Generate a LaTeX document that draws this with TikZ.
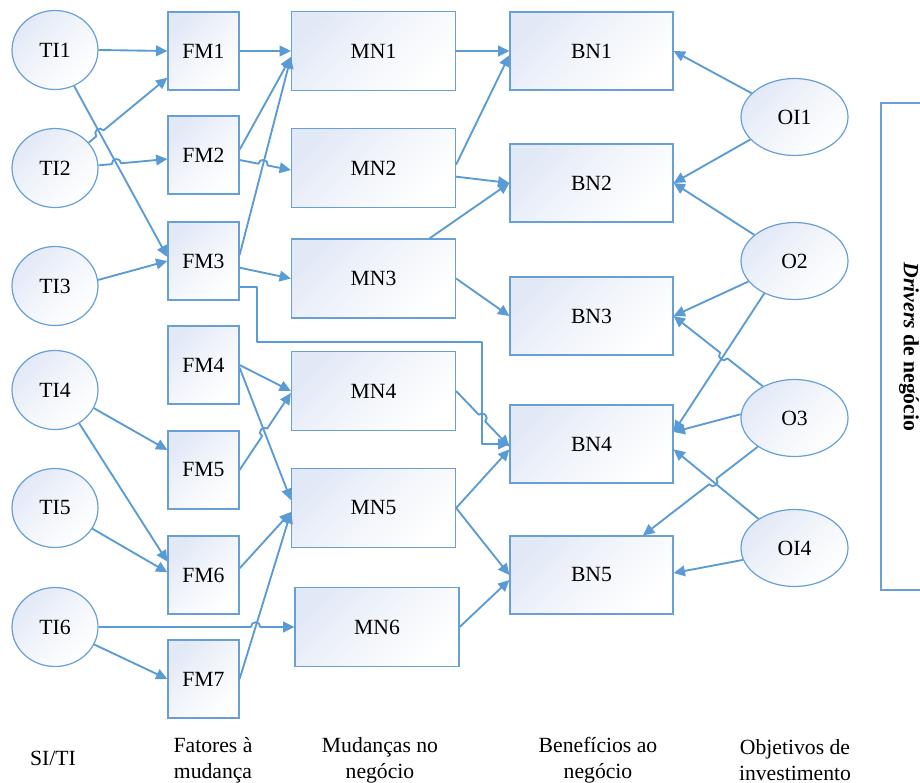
\documentclass[tikz,border=0pt]{standalone}
\usepackage{fontspec}
\setmainfont{Liberation Serif}
\usetikzlibrary{arrows.meta,shapes.geometric,calc}

\definecolor{lnblue}{RGB}{91,155,213}
\definecolor{edgeblue}{RGB}{104,160,214}
\definecolor{shadeblue}{RGB}{226,233,246}

\tikzset{
  conn/.style={draw=lnblue, line width=1.4pt, line join=round,
    -{Triangle[length=8.5pt,width=8pt]}},
  frameline/.style={draw=edgeblue, line width=0.9pt},
  filled/.style={frameline, top color=shadeblue, bottom color=white,
    middle color=shadeblue!45!white,
    shading angle=45, inner sep=0pt,
    font=\fontsize{16.25}{19}\selectfont},
  tiell/.style={filled, ellipse, minimum width=64.5pt, minimum height=59.25pt},
  oiell/.style={filled, ellipse, minimum width=80.25pt, minimum height=57.75pt},
  fmbox/.style={filled, rectangle, minimum width=53.25pt, minimum height=58.5pt},
  mnbox/.style={filled, rectangle, minimum width=123pt, minimum height=59.25pt},
  bnbox/.style={filled, rectangle, minimum width=122.25pt, minimum height=58.5pt},
  caption/.style={align=center, inner sep=0pt,
    font=\fontsize{16.25}{19.5}\selectfont},
}

% connector from #1 to #2 that jumps over the line #3--#4
\newcommand\hopconn[4]{%
  \path (intersection of #1--#2 and #3--#4) coordinate (hp);
  \path ($(hp)!3.5pt!(#1)$) coordinate (hpa) ($(hp)!3.5pt!(#2)$) coordinate (hpb);
  \draw[conn] (#1) -- (hpa)
    .. controls ($(hpa)!0.667!90:(hpb)$) and ($(hpb)!0.667!-90:(hpa)$) .. (hpb)
    -- (#2);
}

\begin{document}
\begin{tikzpicture}[x=0.75pt, y=-0.75pt]
\useasboundingbox (0,0) rectangle (920,782);

% SI/TI
\node[tiell] (TI1) at (55,50)  {TI1};
\node[tiell] (TI2) at (55,168) {TI2};
\node[tiell] (TI3) at (55,286) {TI3};
\node[tiell] (TI4) at (55,390) {TI4};
\node[tiell] (TI5) at (55,508) {TI5};
\node[tiell] (TI6) at (55,627) {TI6};

% change factors
\node[fmbox] (FM1) at (203.5,51)  {FM1};
\node[fmbox] (FM2) at (203.5,155) {FM2};
\node[fmbox] (FM3) at (203.5,261) {FM3};
\node[fmbox] (FM4) at (203.5,365) {FM4};
\node[fmbox] (FM5) at (203.5,470) {FM5};
\node[fmbox] (FM6) at (203.5,575) {FM6};
\node[fmbox] (FM7) at (203.5,679) {FM7};

% business changes
\node[mnbox] (MN1) at (373.5,51)    {MN1};
\node[mnbox] (MN2) at (373.5,168)   {MN2};
\node[mnbox] (MN3) at (373.5,278.5) {MN3};
\node[mnbox] (MN4) at (373.5,391)   {MN4};
\node[mnbox] (MN5) at (373.5,508)   {MN5};
\node[mnbox] (MN6) at (377,627)     {MN6};

% business benefits
\node[bnbox] (BN1) at (591.5,51)  {BN1};
\node[bnbox] (BN2) at (591.5,183) {BN2};
\node[bnbox] (BN3) at (591.5,316) {BN3};
\node[bnbox] (BN4) at (591.5,444) {BN4};
\node[bnbox] (BN5) at (591.5,575) {BN5};

% investment objectives
\node[oiell] (OI1) at (794.5,117) {OI1};
\node[oiell] (O2)  at (794.5,261) {O2};
\node[oiell] (O3)  at (794.5,418) {O3};
\node[oiell] (OI4) at (794.5,548) {OI4};

% attachment points
\coordinate (t1o) at (TI1.-62);
\coordinate (f3a) at ([yshift=3pt]FM3.west);
\coordinate (t2a) at (TI2.37);
\coordinate (f1b) at ([yshift=-20pt]FM1.west);
\coordinate (t2b) at ([yshift=2pt]TI2.east);
\coordinate (f2a) at ([yshift=-3pt]FM2.west);
\coordinate (t6o) at (TI6.east);
\coordinate (m6a) at (MN6.west);
\coordinate (f7o) at (FM7.east);
\coordinate (m5b) at ([yshift=-3pt]MN5.west);
\coordinate (f2o) at ([yshift=-3.75pt]FM2.east);
\coordinate (m2a) at ([yshift=-1.5pt]MN2.west);
\coordinate (f3o) at ([yshift=4.5pt]FM3.east);
\coordinate (m1a) at ([yshift=-4.5pt]MN1.west);
\coordinate (f4b) at ([yshift=-2pt]FM4.east);
\coordinate (m5a) at ([yshift=6pt]MN5.west);
\coordinate (f5o) at (FM5.east);
\coordinate (m4a) at ([yshift=-1.5pt]MN4.west);
\coordinate (m4o) at (MN4.east);
\coordinate (b4a) at ([yshift=-2pt]BN4.west);
\coordinate (f3d) at ([yshift=-19.5pt]FM3.east);
\coordinate (w1) at (257,342);
\coordinate (w2) at (482,342);
\coordinate (w3) at (w2 |- BN4.west);
\coordinate (o2c) at (O2.227);
\coordinate (b4e) at ([yshift=9pt]BN4.east);
\coordinate (o3a) at (O3.135);
\coordinate (b3e) at (BN3.east);
\coordinate (o3c) at (O3.218);
\coordinate (b5n) at ([xshift=38.6pt]BN5.north);
\coordinate (oi4a) at (OI4.141);
\coordinate (b4f) at ([yshift=-4pt]BN4.east);

% SI/TI -> change factors
\draw[conn] (TI1.east) -- (FM1.west);
\draw[conn] (t1o) -- (f3a);
\hopconn{t2a}{f1b}{t1o}{f3a}
\hopconn{t2b}{f2a}{t1o}{f3a}
\draw[conn] (TI3.8) -- (FM3.west);
\draw[conn] (TI4.-25) -- ([yshift=15pt]FM5.west);
\draw[conn] (TI4.-54) -- ([yshift=10pt]FM6.west);
\draw[conn] (TI5.-29) -- ([yshift=2pt]FM6.west);
\draw[conn] (TI6.-24) -- (FM7.west);

% change factors -> business changes
\draw[conn] (FM1.east) -- (MN1.west);
\draw[conn] ([yshift=4pt]FM2.east) -- (m1a);
\draw[conn] (f3o) -- (m1a);
\hopconn{f2o}{m2a}{f3o}{m1a}
\draw[conn] ([yshift=-5pt]FM3.east) -- (MN3.west);
\draw[conn] (f3d) -| (w1) -- (w2) |- (BN4.west);
\draw[conn] (FM4.east) -- (MN4.west);
\draw[conn] (f4b) -- (m5a);
\hopconn{f5o}{m4a}{f4b}{m5a}
\draw[conn] ([yshift=5pt]FM6.east) -- (m5b);
\draw[conn] (f7o) -- (m5b);
\hopconn{t6o}{m6a}{f7o}{m5b}

% business changes -> benefits
\draw[conn] (MN1.east) -- (BN1.west);
\draw[conn] ([yshift=2.5pt]MN2.east) -- ([yshift=-3pt]BN1.west);
\draw[conn] ([yshift=-6.5pt]MN2.east) -- (BN2.west);
\draw[conn] ([xshift=42pt]MN3.north) -- (BN2.west);
\draw[conn] (MN3.east) -- (BN3.west);
\hopconn{m4o}{b4a}{w2}{w3}
\draw[conn] (MN5.east) -- ([yshift=-4pt]BN4.west);
\draw[conn] (MN5.east) -- (BN5.west);
\draw[conn] (MN6.east) -- ([yshift=-3.75pt]BN5.west);

% investment objectives -> benefits
\draw[conn] (OI1.151) -- (BN1.east);
\draw[conn] (OI1.207) -- (BN2.east);
\draw[conn] (O2.147) -- (BN2.east);
\draw[conn] (O2.204) -- (BN3.east);
\draw[conn] (o2c) -- (b4e);
\hopconn{o3a}{b3e}{o2c}{b4e}
\draw[conn] (O3.176) -- (b4e);
\draw[conn] (oi4a) -- (b4f);
\hopconn{o3c}{b5n}{oi4a}{b4f}
\draw[conn] (OI4.193) -- ([yshift=1.5pt]BN5.east);

% business drivers frame
\draw[frameline] (921,103) -- (881,103) -- (881,590) -- (921,590);
\node[rotate=-90, inner sep=0pt, font=\fontsize{16.25}{19}\selectfont\bfseries]
  (drv) at (909,347) {\textit{Drivers} de negócio};

% column captions
\node[caption] (cap1) at (53,758)  {SI/TI};
\node[caption] (cap2) at (213,760) {Fatores à\\mudança};
\node[caption] (cap3) at (380,760) {Mudanças no\\negócio};
\node[caption] (cap4) at (598,760) {Benefícios ao\\negócio};
\node[caption] (cap5) at (795,760) {Objetivos de\\investimento};
\end{tikzpicture}
\end{document}
